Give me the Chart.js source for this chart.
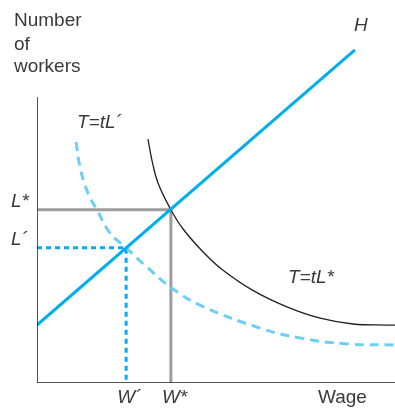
<!DOCTYPE html>
<html>
<head>
<meta charset="utf-8">
<script src="https://cdn.jsdelivr.net/npm/chart.js@4/dist/chart.umd.min.js"></script>
<style>
  html, body { margin: 0; padding: 0; background: #fff; }
  #wrap { width: 395px; height: 410px; position: relative; }
</style>
</head>
<body>
<div id="wrap"><canvas id="chart"></canvas></div>
<script>
// equilibrium values
const wStar = 37.4, lStar = 50.5;
const wPrime = 24.9, lPrime = 39.4;

// supply line H
const hLine = [{ x: 0, y: 16.9 }, { x: 88.8, y: 97.1 }];

// curve T=tL*
const tStarX = [31.0, 32.1, 33.8, 37.4, 40.8, 46.4, 51.7, 60.3, 69.8, 79.1, 88.3, 97.8, 100];
const tStarY = [71.1, 65.0, 58.3, 50.5, 44.9, 38.2, 33.1, 27.0, 22.2, 18.9, 17.2, 16.9, 16.9];

// curve T=tL'
const tPrimeX = [10.9, 12.0, 14.2, 16.8, 20.4, 24.9, 30.7, 37.2, 45.5, 62.3, 73.5, 86.6, 100];
const tPrimeY = [70.3, 63.0, 55.4, 50.4, 43.7, 39.4, 33.8, 28.0, 22.7, 16.0, 13.1, 11.4, 11.1];

const yAxisTop = 83.4;
const xAxisEnd = 100;

const toPts = (xs, ys) => xs.map((x, i) => ({ x, y: ys[i] }));

// LABELS
const labelPlugin = {
  id: "labels",
  afterDatasetsDraw(chart) {
    const c = chart.ctx;
    const sx = chart.scales.x, sy = chart.scales.y;
    c.save();
    c.fillStyle = "#3a3a3a";
    c.textBaseline = "middle";
    c.textAlign = "left";
    c.font = "19px 'Liberation Sans', Arial, sans-serif";
    c.fillText("Number", 14, 21);
    c.fillText("of", 14, 45);
    c.fillText("workers", 14, 67);
    c.fillText("Wage", 318, 398);

    c.font = "italic 19px 'Liberation Sans', Arial, sans-serif";
    c.fillText("W´", sx.getPixelForValue(wPrime) - 9, 398);
    c.fillText("W*", sx.getPixelForValue(wStar) - 9, 398);
    c.fillText("L*", 11, sy.getPixelForValue(lStar) - 8);
    c.fillText("L´", 11, sy.getPixelForValue(lPrime) - 8);
    c.fillText("H", 354, 26);
    c.fillText("T=tL´", 77, 123);
    c.fillText("T=tL*", 288, 278);
    c.restore();
  }
};

new Chart(document.getElementById("chart"), {
  type: "line",
  data: {
    datasets: [
      {
        data: hLine,
        borderColor: "#00aeef",
        borderWidth: 3,
        order: 1
      },
      {
        data: toPts(tStarX, tStarY),
        borderColor: "#231f20",
        borderWidth: 1.3,
        tension: 0.4,
        order: 2
      },
      {
        data: toPts(tPrimeX, tPrimeY),
        borderColor: "#6dcff6",
        borderWidth: 3,
        borderDash: [9, 6],
        tension: 0.4,
        order: 3
      },
      {
        data: [{ x: 0, y: lStar }, { x: wStar, y: lStar }, { x: wStar, y: 0 }],
        borderColor: "#9d9d9f",
        borderWidth: 3,
        order: 4
      },
      {
        data: [{ x: 0, y: lPrime }, { x: wPrime, y: lPrime }, { x: wPrime, y: 0 }],
        borderColor: "#00aeef",
        borderWidth: 3,
        borderDash: [5, 4],
        order: 5
      },
      {
        data: [{ x: 0, y: yAxisTop }, { x: 0, y: 0 }, { x: xAxisEnd, y: 0 }],
        borderColor: "#231f20",
        borderWidth: 1.5,
        order: 0
      }
    ]
  },
  options: {
    responsive: true,
    maintainAspectRatio: false,
    animation: false,
    layout: { padding: { left: 37, right: 0, top: 40, bottom: 27 } },
    elements: { point: { radius: 0 } },
    plugins: { legend: { display: false }, tooltip: { enabled: false } },
    scales: {
      x: { type: "linear", min: 0, max: 100, display: false },
      y: { type: "linear", min: 0, max: 100, display: false }
    }
  },
  plugins: [labelPlugin]
});
</script>
</body>
</html>
